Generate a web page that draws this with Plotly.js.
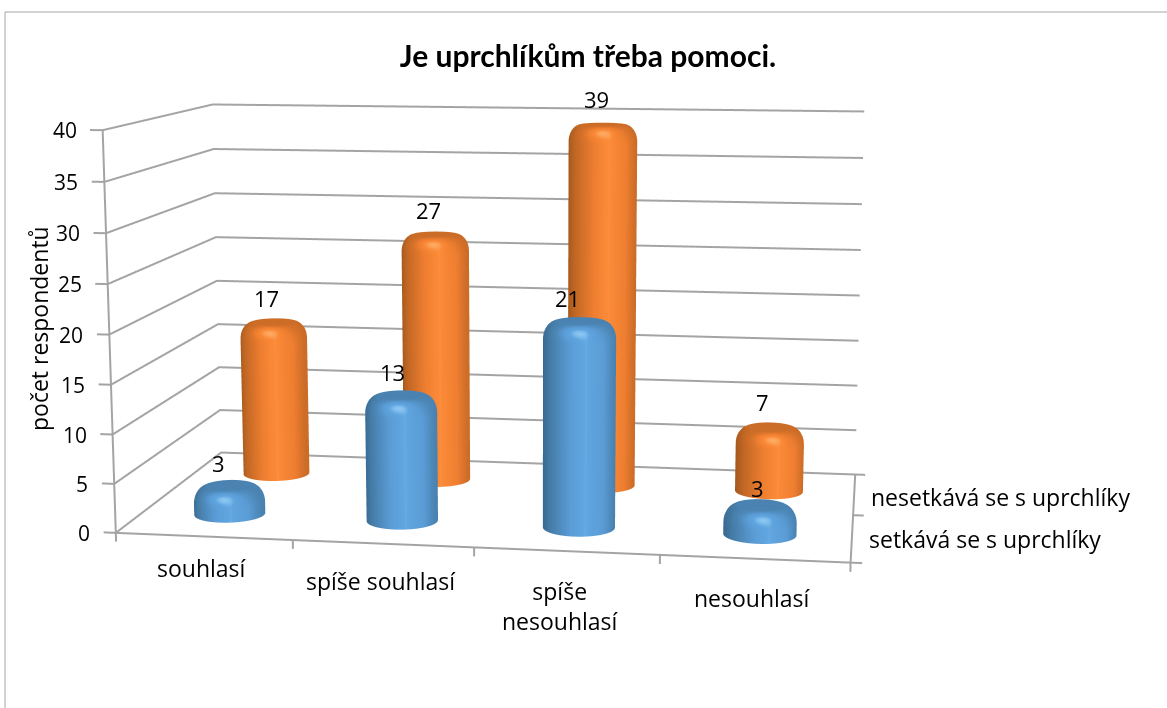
<!DOCTYPE html>
<html><head><meta charset="utf-8">
<script src="https://cdn.plot.ly/plotly-3.0.1.min.js"></script>
<style>html,body{margin:0;padding:0;background:#fff;overflow:hidden}
#frame{position:relative;width:1167px;height:708px;overflow:hidden}
#plot{position:absolute;left:-95px;top:-596px;width:1262px;height:1855px}</style>
</head><body><div id="frame"><div id="plot"></div></div>
<script>
const chartTitle = 'Je uprchlíkům třeba pomoci.';
const yAxisTitle = 'počet respondentů';
const categories = ['souhlasí','spíše souhlasí','spíše<br>nesouhlasí','nesouhlasí'];
const seriesNames = ['setkává se s uprchlíky','nesetkává se s uprchlíky'];
const seriesFront = [3,13,21,3];
const seriesBack = [17,27,39,7];
const zTicks = [0,5,10,15,20,25,30,35,40];

const FONT = '"Open Sans", "Noto Sans", sans-serif';
const TITLEFONT = 'Lato, "Noto Sans", sans-serif';
const GRID = '#a4a4a4';
const W = 1262, H = 1855, LEFT = -95, TOP = -596;
const px = x => (x - LEFT) / W, py = y => 1 - (y - TOP) / H;

const DEPTH = 0.50, DEPTH0 = 0.487, WIDTH = 0.995;
const XR = [-0.1,4.1], YR = [-0.1,2.2], ZR = [-1,41];
const aspect = {x: WIDTH*(XR[1]-XR[0])/4, y: DEPTH*(YR[1]-YR[0])/2, z: 0.55*(ZR[1]-ZR[0])/40};
const yOff = DEPTH/2*(((YR[0]+YR[1])/2)-1) - (DEPTH-DEPTH0)/2;
const xOff = 0.0025, zOff = -0.00185;
const RX = 0.2, RY = 0.2, BEVEL = 1.8;

function lerpTable(t, u){
  for(let i=1;i<t.length;i++) if(u<=t[i][0]){
    const a=t[i-1],b=t[i];return a[1]+(b[1]-a[1])*(u-a[0])/(b[0]-a[0]);
  }
  return t[t.length-1][1];
}
const sideTable=[[-1,0.12],[-0.75,0.38],[-0.2,0.6],[0.3,0.82],[0.75,0.66],[1,0.45]];
function cylinder(cx, cy, v, scale){
  const n=60, thetas=[]; for(let i=0;i<=n;i++) thetas.push(2*Math.PI*i/n);
  const b=Math.min(BEVEL, v*0.6), prof=[[1,0,0],[1,(v-b)/2,0],[1,v-b,0]];
  for(let i=1;i<=10;i++){const a=i/10*Math.PI/2; prof.push([0.62+0.38*Math.cos(a), v-b+b*Math.sin(a), i/10]);}
  prof.push([0.3,v,1.0],[0,v,1.0]);
  const X=[],Y=[],Z=[],C=[];
  prof.forEach(p=>{
    const rx=[],ry=[],rz=[],rc=[];
    thetas.forEach(th=>{
      const u=Math.cos(th), front=Math.sin(th);
      rx.push(cx+RX*p[0]*u); ry.push(cy+RY*p[0]*front); rz.push(p[1]);
      const side=lerpTable(sideTable,u), s=p[2];
      const hi=Math.exp(-Math.pow((s-0.45)/0.28,2))*Math.exp(-Math.pow((u-0.05)/0.45,2))*(front<0?1:0);
      rc.push(Math.min(1, side*(1-s)+0.46*s+0.32*hi));
    });
    X.push(rx);Y.push(ry);Z.push(rz);C.push(rc);
  });
  return {type:'surface',x:X,y:Y,z:Z,surfacecolor:C,cmin:0,cmax:1,colorscale:scale,showscale:false,hoverinfo:'skip',
    lighting:{ambient:1,diffuse:0,specular:0,fresnel:0,roughness:1},
    contours:{x:{highlight:false},y:{highlight:false},z:{highlight:false}}};
}
const blueScale=[[0,'#2f5f8c'],[0.36,'#42779f'],[0.65,'#5a9bd5'],[0.82,'#60a6e0'],[1,'#a8dcff']];
const orangeScale=[[0,'#96501a'],[0.36,'#bb6423'],[0.65,'#ee7e30'],[0.82,'#fb8a38'],[1,'#ffc080']];

const lx=[],ly=[],lz=[];
function seg(pts){pts.forEach(p=>{lx.push(p[0]);ly.push(p[1]);lz.push(p[2]);});lx.push(null);ly.push(null);lz.push(null);}
zTicks.forEach(z=>{ seg([[-0.07,0,z],[0,0,z],[0,2,z],[4,2,z]]); });
seg([[0,0,0],[0,0,40]]);
seg([[0,0,0],[4,0,0],[4,2,0]]);
[0,1,2,3,4].forEach(x=>seg([[x,0,0],[x,0,-0.9]]));
[0,1,2].forEach(y=>seg([[4,y,0],[4.06,y,0]]));
const lines={type:'scatter3d',mode:'lines',x:lx,y:ly,z:lz,line:{color:GRID,width:4},hoverinfo:'skip',showlegend:false};

const traces=[lines];
categories.forEach((c,i)=>{
  traces.push(cylinder(i+0.5,1.5,seriesBack[i],orangeScale));
  traces.push(cylinder(i+0.5,0.5,seriesFront[i],blueScale));
});

const catShiftY=[-14,-19,-22,-21], catShiftX=[-2,-2,-6,-2];
const frontXS=[-11,-9,-12,-3], frontYS=[22,23,23,17], backXS=[-7,-7,-6,-8], backYS=[24,24,25,25];
const ann=[];
zTicks.forEach(z=>ann.push({x:0,y:0,z:z,text:String(z),showarrow:false,xanchor:'right',xshift:-24,yshift:0,font:{family:FONT,size:21,color:'#000'}}));
categories.forEach((c,i)=>ann.push({x:i+0.5,y:0,z:0,text:c,showarrow:false,yanchor:'top',xshift:catShiftX[i],yshift:catShiftY[i],font:{family:FONT,size:23,color:'#000'}}));
seriesNames.forEach((s,i)=>ann.push({x:4,y:i+0.5,z:0,text:s,showarrow:false,xanchor:'left',xshift:15,yshift:i?-3:-1,font:{family:FONT,size:23,color:'#000'}}));
seriesFront.forEach((v,i)=>ann.push({x:i+0.5,y:0.5,z:v,text:String(v),showarrow:false,xshift:frontXS[i],yshift:frontYS[i],font:{family:FONT,size:22,color:'#000'}}));
seriesBack.forEach((v,i)=>ann.push({x:i+0.5,y:1.5,z:v,text:String(v),showarrow:false,xshift:backXS[i],yshift:backYS[i],font:{family:FONT,size:22,color:'#000'}}));

const layout={
  width:W,height:H,margin:{l:0,r:0,t:0,b:0},paper_bgcolor:'#fff',showlegend:false,
  title:{text:'<b>'+chartTitle+'</b>',x:px(588),y:py(56),xanchor:'center',yanchor:'middle',font:{family:TITLEFONT,size:30,color:'#000'}},
  shapes:[
    {type:'line',xref:'paper',yref:'paper',x0:px(5),x1:px(1167),y0:py(12),y1:py(12),line:{color:'#a6a6a6',width:1}},
    {type:'line',xref:'paper',yref:'paper',x0:px(5),x1:px(5),y0:py(12),y1:py(708),line:{color:'#a6a6a6',width:1}}
  ],
  annotations:[{xref:'paper',yref:'paper',x:px(39),y:py(329),xanchor:'center',yanchor:'middle',text:yAxisTitle,textangle:-90,showarrow:false,font:{family:FONT,size:23,color:'#000'}}],
  scene:{
    domain:{x:[0,1],y:[0,1]},
    aspectmode:'manual',aspectratio:aspect,
    xaxis:{visible:false,range:XR,autorange:false},
    yaxis:{visible:false,range:YR,autorange:false},
    zaxis:{visible:false,range:ZR,autorange:false},
    camera:{eye:{x:0.5213-xOff,y:-3.1061-yOff,z:0.5152+zOff},center:{x:0.0466-xOff,y:0.0017-yOff,z:-0.0236+zOff},up:{x:-0.004,y:0,z:1},projection:{type:'perspective'}},
    annotations:ann,bgcolor:'#fff'
  }
};
Plotly.newPlot('plot',traces,layout,{displayModeBar:false});
</script></body></html>
